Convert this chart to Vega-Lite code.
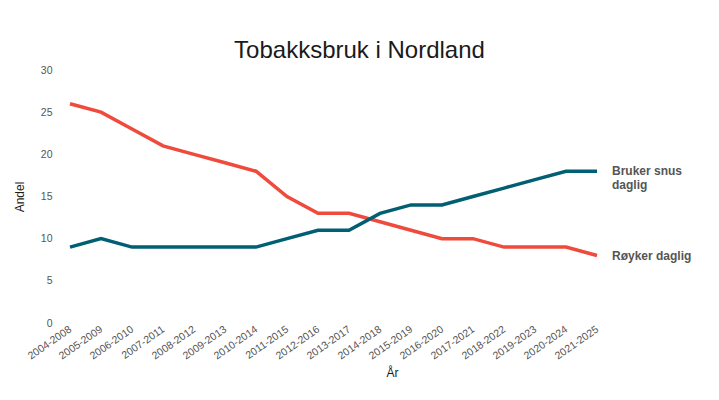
{
  "$schema": "https://vega.github.io/schema/vega-lite/v6.json",
  "width": 527,
  "height": 253,
  "autosize": {"type": "none"},
  "padding": {"left": 70, "top": 70, "right": 122, "bottom": 77},
  "background": "white",
  "config": {
    "view": {"stroke": null},
    "font": "Liberation Sans"
  },
  "title": {
    "text": "Tobakksbruk i Nordland",
    "fontSize": 24,
    "fontWeight": "normal",
    "color": "#1a1a1a",
    "anchor": "middle",
    "dx": 26,
    "offset": 2
  },
  "data": {
    "values": [
      {"periode": "2004-2008", "serie": "Røyker daglig", "andel": 26},
      {"periode": "2005-2009", "serie": "Røyker daglig", "andel": 25},
      {"periode": "2006-2010", "serie": "Røyker daglig", "andel": 23},
      {"periode": "2007-2011", "serie": "Røyker daglig", "andel": 21},
      {"periode": "2008-2012", "serie": "Røyker daglig", "andel": 20},
      {"periode": "2009-2013", "serie": "Røyker daglig", "andel": 19},
      {"periode": "2010-2014", "serie": "Røyker daglig", "andel": 18},
      {"periode": "2011-2015", "serie": "Røyker daglig", "andel": 15},
      {"periode": "2012-2016", "serie": "Røyker daglig", "andel": 13},
      {"periode": "2013-2017", "serie": "Røyker daglig", "andel": 13},
      {"periode": "2014-2018", "serie": "Røyker daglig", "andel": 12},
      {"periode": "2015-2019", "serie": "Røyker daglig", "andel": 11},
      {"periode": "2016-2020", "serie": "Røyker daglig", "andel": 10},
      {"periode": "2017-2021", "serie": "Røyker daglig", "andel": 10},
      {"periode": "2018-2022", "serie": "Røyker daglig", "andel": 9},
      {"periode": "2019-2023", "serie": "Røyker daglig", "andel": 9},
      {"periode": "2020-2024", "serie": "Røyker daglig", "andel": 9},
      {"periode": "2021-2025", "serie": "Røyker daglig", "andel": 8, "etikett": "Røyker daglig"},
      {"periode": "2004-2008", "serie": "Bruker snus daglig", "andel": 9},
      {"periode": "2005-2009", "serie": "Bruker snus daglig", "andel": 10},
      {"periode": "2006-2010", "serie": "Bruker snus daglig", "andel": 9},
      {"periode": "2007-2011", "serie": "Bruker snus daglig", "andel": 9},
      {"periode": "2008-2012", "serie": "Bruker snus daglig", "andel": 9},
      {"periode": "2009-2013", "serie": "Bruker snus daglig", "andel": 9},
      {"periode": "2010-2014", "serie": "Bruker snus daglig", "andel": 9},
      {"periode": "2011-2015", "serie": "Bruker snus daglig", "andel": 10},
      {"periode": "2012-2016", "serie": "Bruker snus daglig", "andel": 11},
      {"periode": "2013-2017", "serie": "Bruker snus daglig", "andel": 11},
      {"periode": "2014-2018", "serie": "Bruker snus daglig", "andel": 13},
      {"periode": "2015-2019", "serie": "Bruker snus daglig", "andel": 14},
      {"periode": "2016-2020", "serie": "Bruker snus daglig", "andel": 14},
      {"periode": "2017-2021", "serie": "Bruker snus daglig", "andel": 15},
      {"periode": "2018-2022", "serie": "Bruker snus daglig", "andel": 16},
      {"periode": "2019-2023", "serie": "Bruker snus daglig", "andel": 17},
      {"periode": "2020-2024", "serie": "Bruker snus daglig", "andel": 18},
      {"periode": "2021-2025", "serie": "Bruker snus daglig", "andel": 18, "etikett": "Bruker snus\ndaglig"}
    ]
  },
  "encoding": {
    "x": {
      "field": "periode",
      "type": "ordinal",
      "scale": {"type": "point", "padding": 0},
      "axis": {
        "title": "År",
        "titleFontSize": 12,
        "titleFontWeight": "normal",
        "titleColor": "#1a1a1a",
        "titleX": 322,
        "titlePadding": 6,
        "labelAngle": -35,
        "labelAlign": "right",
        "labelBaseline": "middle",
        "labelFontSize": 10.5,
        "labelColor": "#555555",
        "labelPadding": 5,
        "domain": false,
        "ticks": false,
        "grid": false
      }
    },
    "y": {
      "field": "andel",
      "type": "quantitative",
      "scale": {"domain": [0, 30]},
      "axis": {
        "title": "Andel",
        "titleFontSize": 12,
        "titleFontWeight": "normal",
        "titleColor": "#1a1a1a",
        "titlePadding": 14,
        "values": [0, 5, 10, 15, 20, 25, 30],
        "labelFontSize": 10.5,
        "labelColor": "#555555",
        "labelPadding": 18,
        "domain": false,
        "ticks": false,
        "grid": false
      }
    },
    "color": {
      "field": "serie",
      "type": "nominal",
      "scale": {"domain": ["Røyker daglig", "Bruker snus daglig"], "range": ["#EF4A3C", "#005F73"]},
      "legend": null
    }
  },
  "layer": [
    {
      "mark": {"type": "line", "strokeWidth": 3.5, "strokeCap": "butt"}
    },
    {
      "transform": [{"filter": "datum.etikett != null"}],
      "mark": {"type": "text", "align": "left", "baseline": "middle", "dx": 15, "fontSize": 12, "fontWeight": "bold", "color": "#555555", "lineBreak": "\n", "lineHeight": 14},
      "encoding": {
        "text": {"field": "etikett"},
        "color": {"value": "#555555"}
      }
    }
  ]
}
